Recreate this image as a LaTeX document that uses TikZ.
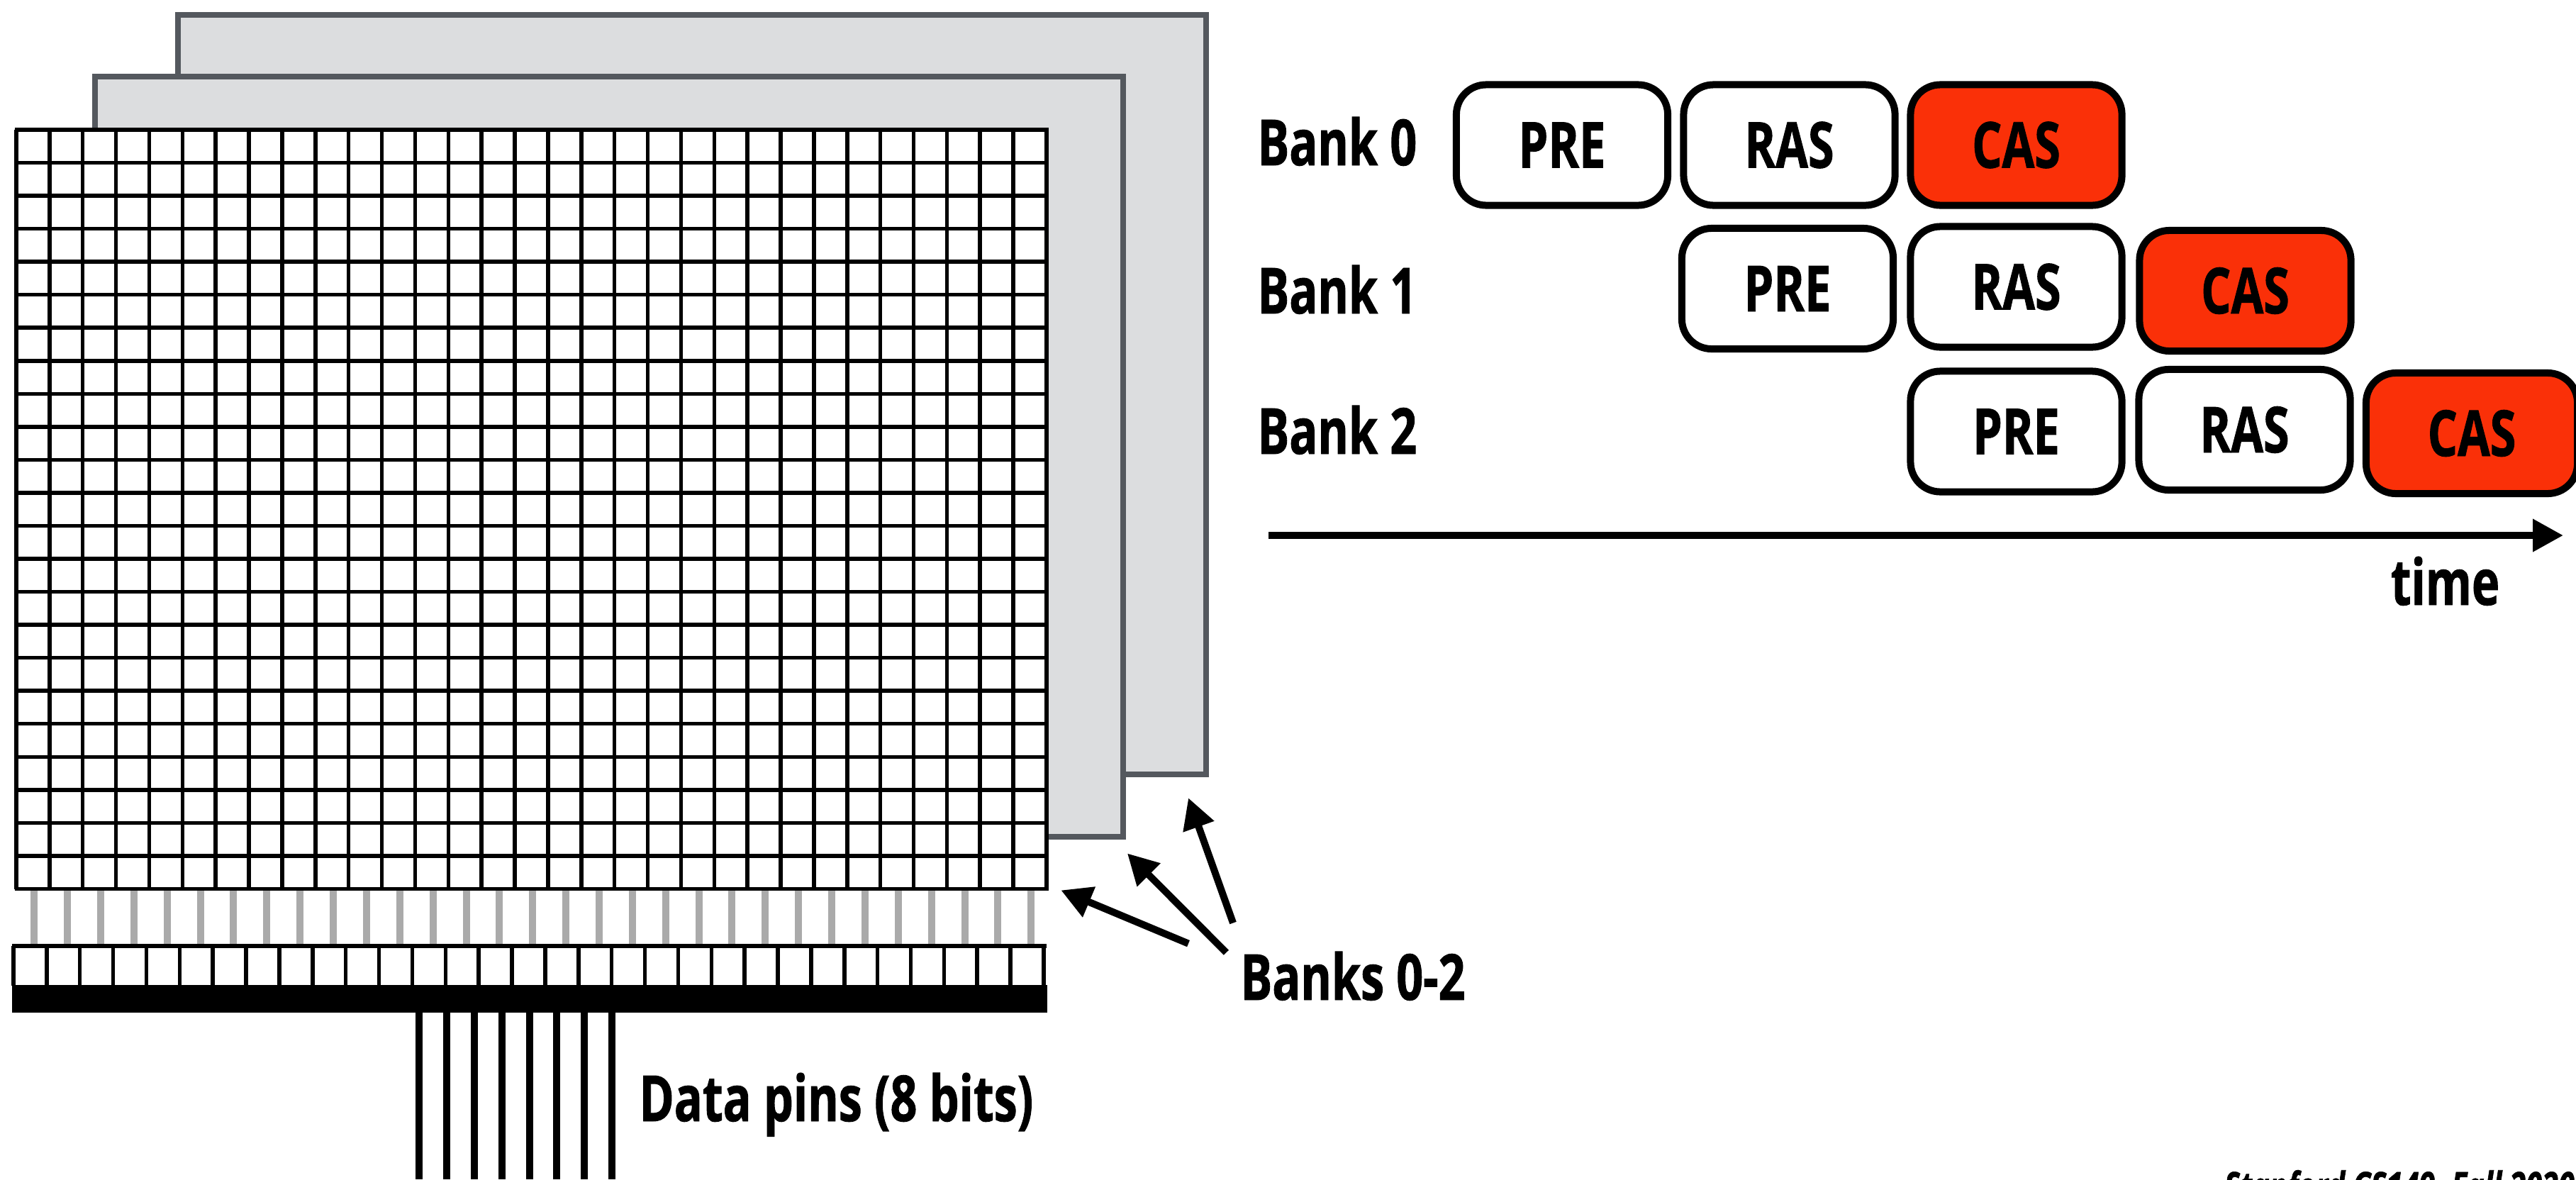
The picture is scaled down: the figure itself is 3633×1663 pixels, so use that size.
\documentclass[tikz,border=0pt]{standalone}
\usepackage{fontspec}
\setmainfont[FakeStretch=0.74,BoldFeatures={FakeBold=1},BoldItalicFeatures={FakeBold=1}]{Open Sans}
\usetikzlibrary{arrows.meta}

\definecolor{panelfill}{HTML}{DCDDDF}
\definecolor{paneledge}{HTML}{54585E}
\definecolor{wiregray}{HTML}{AAAAAA}
\definecolor{casred}{HTML}{FA3008}

\tikzset{
    panel/.style={draw=paneledge, fill=panelfill, line width=0.08cm},
    gridline/.style={draw=black, line width=0.055cm},
    wire/.style={draw=wiregray, line width=0.1cm},
    pin/.style={draw=black, line width=0.1cm},
    cmdbox/.style={draw=black, fill=white, line width=0.1cm, rounded corners=0.42cm,
        minimum width=2.98cm, minimum height=1.7cm, inner sep=0pt,
        font=\fontsize{25.5}{30}\selectfont\bfseries},
    casbox/.style={cmdbox, fill=casred},
    label/.style={anchor=base west, inner sep=0pt,
        font=\fontsize{25.5}{30}\selectfont\bfseries},
    bigarrow/.style={draw=black, line width=0.1cm, -{Triangle[length=0.43cm,width=0.44cm]}}
}

\begin{document}
\begin{tikzpicture}[x=0.01cm, y=-0.01cm]
\clip (0,0) rectangle (3633,1663);

\draw[panel] (251,21) rectangle (1701,1092);
\draw[panel] (134,108) rectangle (1584,1180);

\fill[white] (23,183) rectangle (1476,1253.5);
\foreach \col in {0,...,31}
    \draw[gridline] ({23+\col*46.87},183) -- ({23+\col*46.87},1253.5);
\foreach \row in {0,...,23}
    \draw[gridline] (20.5,{183+\row*46.54}) -- (1478.5,{183+\row*46.54});

\foreach \col in {0,...,30}
    \draw[wire] ({48.2+\col*46.87},1256) -- ({48.2+\col*46.87},1332);

\draw[gridline] (17,1334) -- (1476,1334);
\foreach \col in {0,...,31}
    \draw[gridline] ({19+\col*46.87},1334) -- ({19+\col*46.87},1390);
\fill[black] (16.6,1388.7) rectangle (1477,1428.3);

\foreach \col in {0,...,7}
    \draw[pin] ({591.3+\col*38.8},1428) -- ({591.3+\col*38.8},1663);

\node[label] (datapins) at (901,1581) {Data pins (8 bits)};
\node[label] (bankslabel) at (1749,1410) {Banks 0-2};

\coordinate (tail0) at (1676,1330.6);
\coordinate (tip0) at (1496.3,1255.4);
\coordinate (tail1) at (1729.4,1343.3);
\coordinate (tip1) at (1589.9,1203.4);
\coordinate (tail2) at (1739,1301.5);
\coordinate (tip2) at (1676,1125.2);
\draw[bigarrow] (tail0) -- (tip0);
\draw[bigarrow] (tail1) -- (tip1);
\draw[bigarrow] (tail2) -- (tip2);

\node[label] (bank0) at (1773,233) {Bank 0};
\node[label] (bank1) at (1773,442) {Bank 1};
\node[label] (bank2) at (1773,640) {Bank 2};

\node[cmdbox] (pre0) at (2203,204.5) {PRE};
\node[cmdbox] (ras0) at (2523.5,204.5) {RAS};
\node[casbox] (cas0) at (2843.5,204.5) {CAS};

\node[cmdbox] (pre1) at (2521,407) {PRE};
\node[cmdbox] (ras1) at (2843.5,404.5) {RAS};
\node[casbox] (cas1) at (3166.5,410) {CAS};

\node[cmdbox] (pre2) at (2843.5,608.5) {PRE};
\node[cmdbox] (ras2) at (3165.5,606) {RAS};
\node[casbox] (cas2) at (3486,611) {CAS};

\coordinate (timestart) at (1789,755);
\coordinate (timeend) at (3615,755);
\draw[bigarrow] (timestart) -- (timeend);
\node[label] (timelabel) at (3371,853) {time};

\node[anchor=base west, inner sep=0pt, font=\fontsize{16}{19}\selectfont\bfseries\itshape] (footer) at (3136,1693) {Stanford CS149, Fall 2020};
\end{tikzpicture}
\end{document}
